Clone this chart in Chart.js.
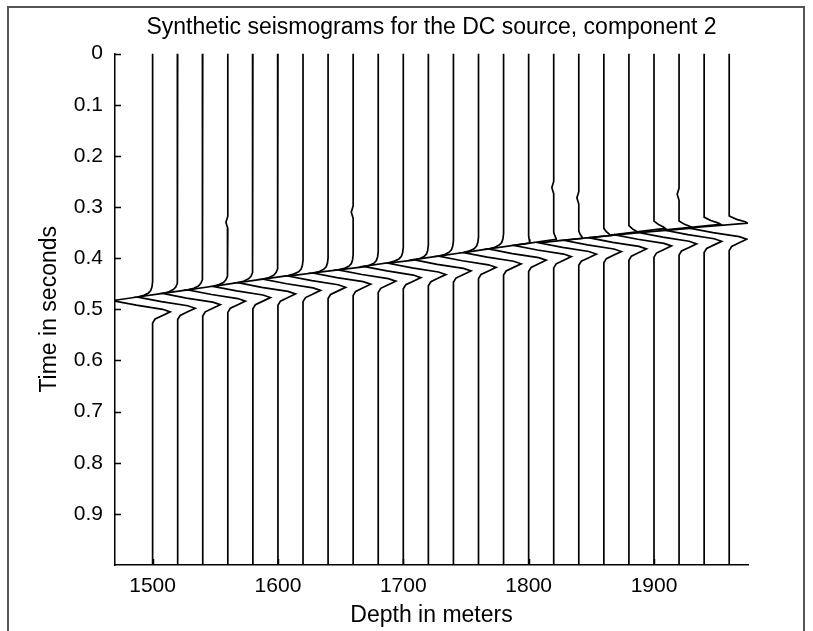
<!DOCTYPE html>
<html>
<head>
<meta charset="utf-8">
<script src="https://cdn.jsdelivr.net/npm/chart.js@4.4.0/dist/chart.umd.min.js"></script>
<style>
html, body { margin: 0; padding: 0; background: #fff; }
#wrap { width: 813px; height: 631px; }
</style>
</head>
<body>
<div id="wrap"><canvas id="seis" width="813" height="631"></canvas></div>
<script>
// receiver depths (m)
var depths = [1500, 1520, 1540, 1560, 1580, 1600, 1620, 1640, 1660, 1680, 1700, 1720,
              1740, 1760, 1780, 1800, 1820, 1840, 1860, 1880, 1900, 1920, 1940, 1960];
// time of the big left swing on each trace (s)
var troughTimes = [0.483, 0.476, 0.469, 0.462, 0.455, 0.448, 0.441, 0.435, 0.429, 0.423, 0.416, 0.410,
                   0.403, 0.396, 0.389, 0.382, 0.375, 0.370, 0.365, 0.360, 0.354, 0.350, 0.345, 0.341];
// forward lobe just ahead of the swing (m)
var leadLobe = [0, 0, 0, 0, 0, 0, 0, 0, 0, 0, 0, 0,
                0, 0, 0, 1, 2, 3, 5, 7, 9, 11, 13, 15];
// weak early arrival: time (s) and offset (m)
var earlyTimes = [0, 0, 0, 0.330, 0, 0, 0, 0, 0.310, 0, 0, 0,
                  0, 0, 0, 0, 0.262, 0.282, 0, 0, 0, 0.275, 0, 0];
var earlyAmps = [0, 0, 0, -1.5, 0, 0, 0, 0, -1.5, 0, 0, 0,
                 0, 0, 0, 0, -1.5, -1.5, 0, 0, 0, -1.5, 0, 0];
var earlyLag = [-0.012, -0.006, 0, 0.006, 0.012];
var earlyShape = [0, 0.5, 1, 0.5, 0];
// wavelet after the trough: lag (s) and offset (m)
var swingDepth = 32;
var tailLag = [0, 0.009, 0.017, 0.022, 0.029, 0.036, 0.044];
var tailOffset = [-32, -13, 8, 14, 8, 2, 0];
// entry bend into the swing when there is no forward lobe: offset (m), lift (s)
var entryOffset = [0, -0.5, -1.5, -3.5, -7, -12];
var entryLift = [0.026, 0.016, 0.009, 0.0045, 0.0015, 0];

var xTicks = [1500, 1600, 1700, 1800, 1900];
var yTicks = [0, 0.1, 0.2, 0.3, 0.4, 0.5, 0.6, 0.7, 0.8, 0.9];

var FONT = "'Liberation Sans', Arial, Helvetica, sans-serif";

function buildTrace(i) {
    var d = depths[i];
    var tt = troughTimes[i];
    // slope of the swing follows the moveout between neighbouring traces
    var s = i > 0 ? (troughTimes[i - 1] - tt) / (d - depths[i - 1])
                  : (tt - troughTimes[1]) / (depths[1] - d);
    var lead = leadLobe[i];
    var pts = [{x: d, y: 0}];
    var k;
    if (earlyAmps[i]) {
        for (k = 0; k < earlyLag.length; k++) {
            pts.push({x: d + earlyAmps[i] * earlyShape[k], y: earlyTimes[i] + earlyLag[k]});
        }
    }
    var ts = tt - (swingDepth + lead) * s;
    if (lead > 0) {
        pts.push({x: d, y: ts - 0.014});
        pts.push({x: d + 0.4 * lead, y: ts - 0.0075});
        pts.push({x: d + 0.85 * lead, y: ts - 0.0028});
        pts.push({x: d + lead, y: ts});
    } else {
        for (k = 0; k < entryOffset.length; k++) {
            pts.push({x: d + entryOffset[k], y: ts - entryOffset[k] * s - entryLift[k]});
        }
    }
    for (k = 0; k < tailLag.length; k++) {
        pts.push({x: d + tailOffset[k], y: tt + tailLag[k]});
    }
    pts.push({x: d, y: 1});
    return pts;
}

var datasets = [];
for (var i = 0; i < depths.length; i++) {
    datasets.push({
        label: 'z = ' + depths[i],
        data: buildTrace(i),
        showLine: true,
        borderColor: '#000',
        borderWidth: 1.7,
        pointRadius: 0,
        tension: 0
    });
}

// short tick marks pointing into the plot
var innerTicks = {
    id: 'innerTicks',
    afterDraw: function(chart) {
        var ctx = chart.ctx, a = chart.chartArea;
        var xs = chart.scales.x, ys = chart.scales.y;
        ctx.save();
        ctx.strokeStyle = '#000';
        ctx.lineWidth = 1.5;
        ctx.beginPath();
        xTicks.forEach(function(v) {
            var px = Math.round(xs.getPixelForValue(v)) + 0.5;
            ctx.moveTo(px, a.bottom);
            ctx.lineTo(px, a.bottom - 6);
        });
        yTicks.forEach(function(v) {
            var py = Math.round(ys.getPixelForValue(v)) + 0.5;
            ctx.moveTo(a.left, py);
            ctx.lineTo(a.left + 6, py);
        });
        ctx.stroke();
        ctx.restore();
    }
};

// white page with the figure window edge; title centred over the axes
var pageFrame = {
    id: 'pageFrame',
    afterLayout: function(chart) {
        if (chart.titleBlock) {
            chart.titleBlock.left = chart.chartArea.left;
            chart.titleBlock.right = chart.chartArea.right;
        }
    },
    beforeDraw: function(chart) {
        var ctx = chart.ctx;
        ctx.save();
        ctx.fillStyle = '#fff';
        ctx.fillRect(0, 0, chart.width, chart.height);
        ctx.strokeStyle = '#555';
        ctx.lineWidth = 2;
        ctx.strokeRect(8, 7, 796, 640);
        ctx.restore();
    }
};

new Chart(document.getElementById('seis'), {
    type: 'scatter',
    data: {datasets: datasets},
    plugins: [pageFrame, innerTicks],
    options: {
        responsive: false,
        animation: false,
        layout: {padding: {left: 0, right: 65, top: 0, bottom: 0}},
        plugins: {
            legend: {display: false},
            tooltip: {enabled: false},
            title: {
                display: true,
                text: 'Synthetic seismograms for the DC source, component 2',
                color: '#000',
                font: {family: FONT, size: 23, weight: 'normal'},
                padding: {top: 14, bottom: 12}
            }
        },
        scales: {
            x: {
                type: 'linear',
                position: 'bottom',
                min: 1470,
                max: 1975,
                grid: {display: false, drawTicks: false},
                border: {display: true, color: '#000', width: 1.5},
                afterBuildTicks: function(scale) {
                    scale.ticks = xTicks.map(function(v) { return {value: v}; });
                },
                afterFit: function(scale) { scale.height = 66; },
                ticks: {
                    color: '#000',
                    padding: 9,
                    maxRotation: 0,
                    font: {family: FONT, size: 21},
                    callback: function(v) { return String(v); }
                },
                title: {
                    display: true,
                    text: 'Depth in meters',
                    color: '#000',
                    font: {family: FONT, size: 23},
                    padding: {top: 0, bottom: 2}
                }
            },
            y: {
                type: 'linear',
                reverse: true,
                min: 0,
                max: 1,
                grid: {display: false, drawTicks: false},
                border: {display: true, color: '#000', width: 1.5},
                afterBuildTicks: function(scale) {
                    scale.ticks = yTicks.map(function(v) { return {value: v}; });
                },
                afterFit: function(scale) { scale.width = 115; },
                ticks: {
                    color: '#000',
                    padding: 12,
                    font: {family: FONT, size: 21},
                    callback: function(v) { return String(Math.round(v * 10) / 10); }
                },
                title: {
                    display: true,
                    text: 'Time in seconds',
                    color: '#000',
                    font: {family: FONT, size: 23},
                    padding: {top: 36, bottom: 0}
                }
            }
        }
    }
});
</script>
</body>
</html>
